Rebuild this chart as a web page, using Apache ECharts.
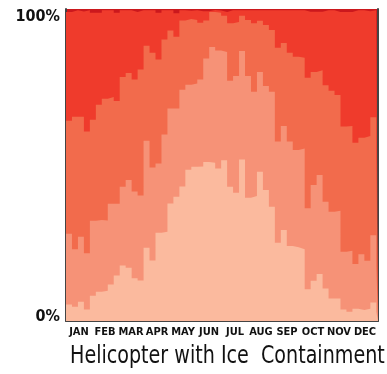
<!DOCTYPE html>
<html><head><meta charset="utf-8">
<script src="https://cdn.jsdelivr.net/npm/echarts@6/dist/echarts.min.js"></script>
<style>html,body{margin:0;padding:0;background:#fff}#c{width:387px;height:374px}</style>
</head><body><div id="c"></div>
<script>
const chartTitle = 'Helicopter with Ice  Containment';
const months = ['JAN','FEB','MAR','APR','MAY','JUN','JUL','AUG','SEP','OCT','NOV','DEC'];
const yTickLabels = ['0%', '100%'];
const weeks = [1,2,3,4,5,6,7,8,9,10,11,12,13,14,15,16,17,18,19,20,21,22,23,24,25,26,27,
  28,29,30,31,32,33,34,35,36,37,38,39,40,41,42,43,44,45,46,47,48,49,50,51,52,53];
const daysInYear = 366;
// cumulative tops (percent) of each band, bottom band first
const band1Top = [5.3,4.6,6.2,3.7,8.1,9.4,9.7,11.7,14.6,17.8,17.1,13.7,13.0,23.5,19.4,28.3,28.6,37.7,39.8,43.1,48.5,49.4,49.5,51.0,50.7,48.9,51.5,
  43.0,41.1,51.8,39.5,40.1,47.8,42.0,36.6,25.1,29.2,24.0,23.6,23.0,10.2,12.9,15.1,10.4,7.2,7.2,3.7,3.0,3.9,3.5,3.9,5.9,3.0];
const band2Top = [28.0,23.0,27.0,21.7,32.1,32.4,32.2,37.6,37.6,43.0,45.2,41.5,40.2,57.8,49.2,50.5,59.8,68.1,68.1,74.1,75.7,76.1,77.4,84.1,87.8,86.7,86.2,
  77.0,78.5,86.5,78.5,73.5,79.8,75.3,73.5,57.5,62.5,57.5,54.8,55.3,36.1,43.6,46.8,38.2,35.0,35.3,22.2,22.5,18.3,21.4,19.3,27.5,17.9];
const band3Top = [64.2,65.5,65.5,60.7,64.5,69.3,71.2,71.8,70.5,78.2,79.5,77.4,80.6,88.2,86.0,83.8,90.2,93.1,91.1,96.3,96.8,96.5,95.6,96.3,99.0,98.8,97.8,
  95.4,95.8,97.8,96.5,95.4,96.2,94.9,93.3,87.6,89.1,86.0,84.7,84.4,78.0,79.8,80.4,75.6,73.8,72.4,62.3,62.5,57.1,58.7,59.3,65.3,53.9];
const band4Top = [99.0,99.6,99.2,99.6,98.8,98.8,99.6,99.6,98.8,99.6,99.6,99.0,99.6,99.6,99.6,98.8,99.6,99.6,98.6,99.6,99.4,99.6,99.3,99.3,99.7,99.5,99.0,
  99.6,99.6,99.6,99.6,99.6,99.6,99.6,99.6,99.6,99.6,99.6,99.6,99.6,99.1,99.1,99.1,99.6,99.6,99.0,99.0,99.0,99.6,99.6,99.3,99.6,97.5];

const FONT = '"Liberation Sans Narrow", "DejaVu Sans Condensed", sans-serif';

function stepPoints(vals) {
  const pts = weeks.map((w, i) => [(w - 1) * 7, vals[i]]);
  pts.push([daysInYear, vals[vals.length - 1]]);
  return pts;
}
function band(vals, color, z) {
  return {
    type: 'line', step: 'end', data: stepPoints(vals), symbol: 'none', showSymbol: false,
    lineStyle: { width: 0, opacity: 0 }, areaStyle: { color: color, opacity: 1 },
    z: z, silent: true
  };
}

const chart = echarts.init(document.getElementById('c'), null, { renderer: 'canvas' });
chart.setOption({
  animation: false,
  graphic: [{
    type: 'text', x: 70, y: 344, scaleX: 0.85, scaleY: 1, silent: true,
    style: { text: chartTitle, fontFamily: FONT, fontSize: 25, fontWeight: 'normal', fill: '#111',
             verticalAlign: 'top', align: 'left' }
  }],
  grid: { left: 66, top: 9, width: 312, height: 312, show: true, backgroundColor: '#cb181d', borderWidth: 0 },
  xAxis: [
    { type: 'value', min: 0, max: daysInYear, position: 'bottom',
      axisLine: { show: true, onZero: false, lineStyle: { color: '#444', width: 2 } },
      axisTick: { show: false }, axisLabel: { show: false }, splitLine: { show: false } },
    { type: 'category', data: months, position: 'bottom', boundaryGap: true,
      axisLine: { show: false }, axisTick: { show: false }, splitLine: { show: false },
      axisLabel: { margin: 6, fontFamily: FONT, fontSize: 11, fontWeight: 'bold', color: '#111', interval: 0 } }
  ],
  yAxis: [
    { type: 'value', min: 0, max: 100, interval: 100, position: 'left',
      axisLine: { show: true, lineStyle: { color: '#444', width: 2 } },
      axisTick: { show: false }, splitLine: { show: false },
      axisLabel: {
        margin: 6, fontFamily: FONT, fontSize: 16, fontWeight: 'bold', color: '#111',
        formatter: function (v) {
          const idx = v / 100;
          return idx === 1 ? '{t|' + yTickLabels[1] + '}' : '{b|' + yTickLabels[0] + '}';
        },
        rich: {
          t: { padding: [16, 0, 0, 0], fontFamily: FONT, fontSize: 16, fontWeight: 'bold', color: '#111' },
          b: { padding: [0, 0, 9, 0], fontFamily: FONT, fontSize: 16, fontWeight: 'bold', color: '#111' }
        }
      } },
    { type: 'value', min: 0, max: 100, position: 'right',
      axisLine: { show: true, lineStyle: { color: '#444', width: 2 } },
      axisTick: { show: false }, axisLabel: { show: false }, splitLine: { show: false } }
  ],
  series: [
    band(band4Top, '#ef3b2c', 2),
    band(band3Top, '#f26b4c', 3),
    band(band2Top, '#f69277', 4),
    band(band1Top, '#fbba9e', 5)
  ]
});
</script></body></html>
